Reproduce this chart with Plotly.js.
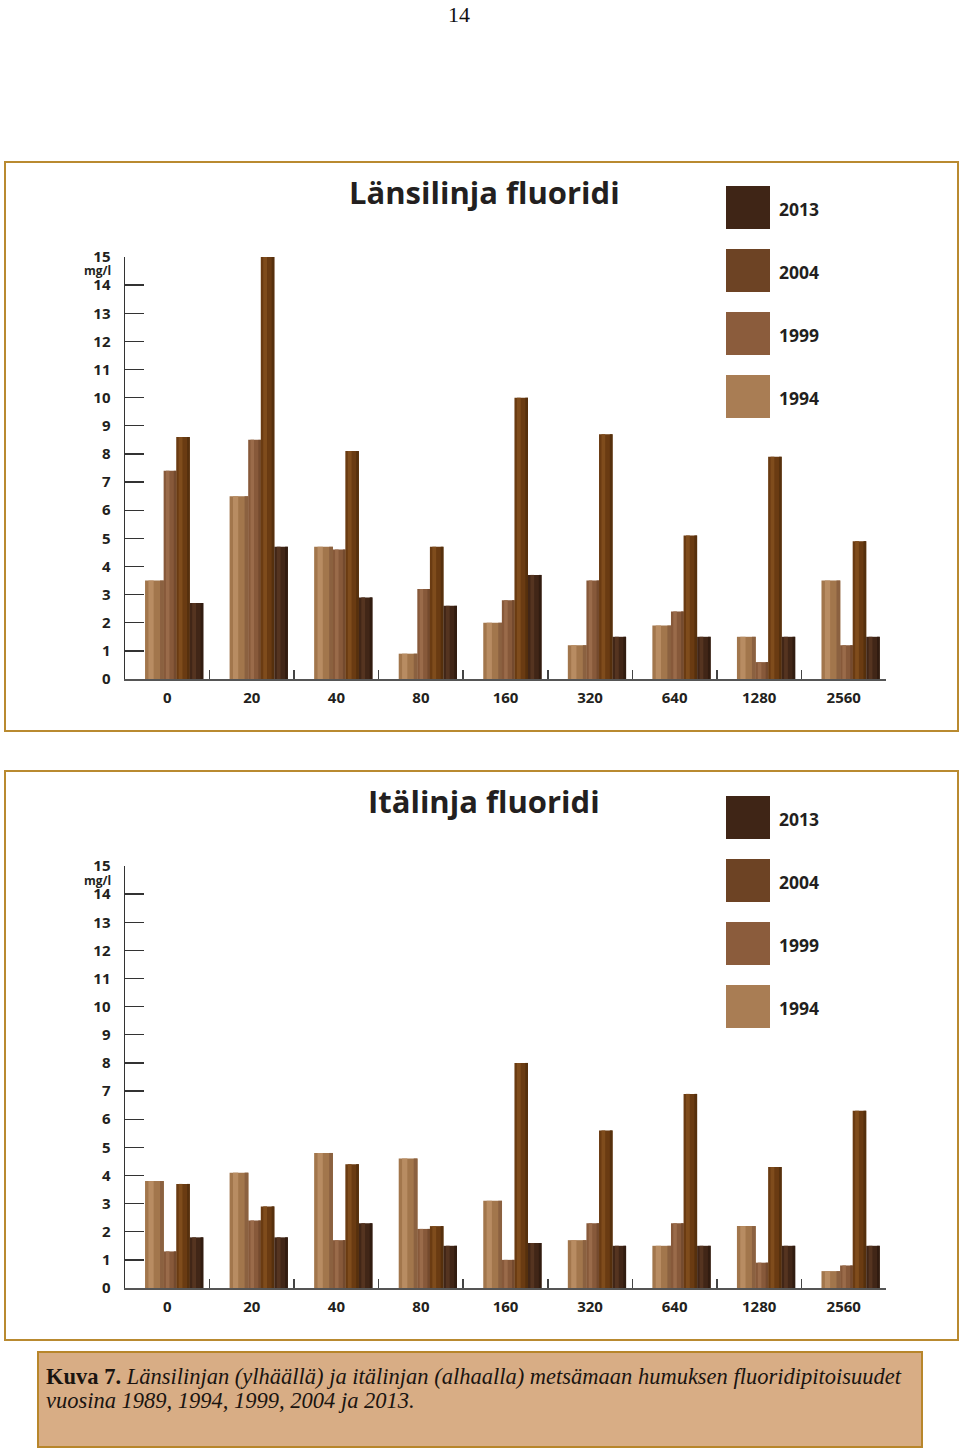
<!DOCTYPE html>
<html>
<head>
<meta charset="utf-8">
<script src="https://cdn.plot.ly/plotly-3.0.1.min.js"></script>
<style>
  html, body { margin: 0; padding: 0; background: #ffffff; }
  #chart { width: 960px; height: 1451px; }
</style>
</head>
<body>
<div id="chart"></div>
<script>
// ---- Data ----
const categories = ['0', '20', '40', '80', '160', '320', '640', '1280', '2560'];
const years = ['1994', '1999', '2004', '2013'];
const yTickValues = [0, 1, 2, 3, 4, 5, 6, 7, 8, 9, 10, 11, 12, 13, 14, 15];

// Länsilinja (top chart), mg/l
const west1994 = [3.5, 6.5, 4.7, 0.9, 2.0, 1.2, 1.9, 1.5, 3.5];
const west1999 = [7.4, 8.5, 4.6, 3.2, 2.8, 3.5, 2.4, 0.6, 1.2];
const west2004 = [8.6, 15.0, 8.1, 4.7, 10.0, 8.7, 5.1, 7.9, 4.9];
const west2013 = [2.7, 4.7, 2.9, 2.6, 3.7, 1.5, 1.5, 1.5, 1.5];

// Itälinja (bottom chart), mg/l
const east1994 = [3.8, 4.1, 4.8, 4.6, 3.1, 1.7, 1.5, 2.2, 0.6];
const east1999 = [1.3, 2.4, 1.7, 2.1, 1.0, 2.3, 2.3, 0.9, 0.8];
const east2004 = [3.7, 2.9, 4.4, 2.2, 8.0, 5.6, 6.9, 4.3, 6.3];
const east2013 = [1.8, 1.8, 2.3, 1.5, 1.6, 1.5, 1.5, 1.5, 1.5];

const titleWest = 'Länsilinja fluoridi';
const titleEast = 'Itälinja fluoridi';
const unitLabel = 'mg/l';
const pageNumber = '14';
const captionBold = 'Kuva 7.';
const captionLine1 = ' Länsilinjan (ylhäällä) ja itälinjan (alhaalla) metsämaan humuksen fluoridipitoisuudet';
const captionLine2 = 'vuosina 1989, 1994, 1999, 2004 ja 2013.';

// ---- Styles (not data) ----
const W = 960, H = 1451;
const px = x => x / W;
const py = y => 1 - y / H;

const style = {
  '1994': { base: '#a2764c', hi: '#b88c62', sh: '#8b6140', legend: '#a97d54', offset: -0.263, width: 0.222 },
  '1999': { base: '#87593a', hi: '#9a6b4a', sh: '#744a2e', legend: '#8b5c3c', offset: -0.043, width: 0.150 },
  '2004': { base: '#6a3b12', hi: '#7f4c1c', sh: '#56300d', legend: '#6d4324', offset: 0.106, width: 0.160 },
  '2013': { base: '#412617', hi: '#553420', sh: '#311c10', legend: '#3f2516', offset: 0.266, width: 0.160 }
};

const westData = { '1994': west1994, '1999': west1999, '2004': west2004, '2013': west2013 };
const eastData = { '1994': east1994, '1999': east1999, '2004': east2004, '2013': east2013 };

function barsFor(dataMap, xa, ya) {
  const out = [];
  years.forEach(yr => {
    const s = style[yr];
    const vals = dataMap[yr];
    const common = { type: 'bar', x: categories, y: vals, xaxis: xa, yaxis: ya,
                     showlegend: false, hoverinfo: 'skip' };
    out.push(Object.assign({}, common, { name: yr, offset: s.offset, width: s.width,
      marker: { color: s.base, line: { width: 0 } } }));
    // cylinder highlight stripe
    out.push(Object.assign({}, common, { name: yr + ' hi', offset: s.offset + s.width * 0.18, width: s.width * 0.28,
      marker: { color: s.hi, line: { width: 0 } } }));
    // cylinder shadow stripe
    out.push(Object.assign({}, common, { name: yr + ' sh', offset: s.offset + s.width * 0.80, width: s.width * 0.20,
      marker: { color: s.sh, line: { width: 0 } } }));
  });
  return out;
}

const traces = [].concat(barsFor(westData, 'x', 'y'), barsFor(eastData, 'x2', 'y2'));

const chartFont = { family: 'Open Sans, Noto Sans, sans-serif', color: '#231f20', weight: 700 };
const serifFont = { family: 'Liberation Serif, serif', size: 22.5, color: '#1a1410', weight: 400 };

function xAxisDef() {
  return {
    domain: [px(125), px(886)],
    type: 'category',
    range: [-0.5, 8.5],
    showline: true, linecolor: '#555555', linewidth: 2,
    ticks: 'inside', tickson: 'boundaries', ticklen: 9, tickwidth: 1.5, tickcolor: '#444444',
    showgrid: false, zeroline: false,
    tickfont: Object.assign({}, chartFont, { size: 15 }),
    ticklabelstandoff: 4,
    fixedrange: true
  };
}
function yAxisDef(y0, y15) {
  return {
    domain: [py(y0), py(y15)],
    range: [0, 15],
    tickmode: 'array', tickvals: yTickValues, ticktext: yTickValues.map(String),
    showline: true, linecolor: '#333333', linewidth: 1.5,
    ticks: 'inside', ticklen: 19, tickwidth: 1.3, tickcolor: '#333333',
    showgrid: false, zeroline: false,
    tickfont: Object.assign({}, chartFont, { size: 15 }),
    ticklabelstandoff: 10,
    fixedrange: true
  };
}

const boxColor = '#b98a30';
const shapes = [
  { type: 'rect', xref: 'paper', yref: 'paper', x0: px(5), x1: px(958), y0: py(731), y1: py(162),
    line: { color: boxColor, width: 2 }, fillcolor: 'rgba(0,0,0,0)', layer: 'below' },
  { type: 'rect', xref: 'paper', yref: 'paper', x0: px(5), x1: px(958), y0: py(1340), y1: py(771),
    line: { color: boxColor, width: 2 }, fillcolor: 'rgba(0,0,0,0)', layer: 'below' },
  { type: 'rect', xref: 'paper', yref: 'paper', x0: px(38), x1: px(922), y0: py(1447), y1: py(1352),
    line: { color: '#b8862b', width: 2 }, fillcolor: '#d8ad85', layer: 'below' }
];

const annotations = [];
function legendBlock(topY) {
  years.slice().reverse().forEach((yr, i) => {
    const y0 = topY + i * 63;
    shapes.push({ type: 'rect', xref: 'paper', yref: 'paper', x0: px(726), x1: px(770),
      y0: py(y0 + 43), y1: py(y0), line: { width: 0 }, fillcolor: style[yr].legend });
    annotations.push({ xref: 'paper', yref: 'paper', x: px(777), y: py(y0 + 23), text: yr,
      showarrow: false, xanchor: 'left', yanchor: 'middle',
      font: Object.assign({}, chartFont, { size: 17.5 }) });
  });
}
legendBlock(186);
legendBlock(796);

annotations.push(
  { xref: 'paper', yref: 'paper', x: px(484), y: py(192), text: titleWest, showarrow: false,
    xanchor: 'center', yanchor: 'middle', font: Object.assign({}, chartFont, { size: 31 }) },
  { xref: 'paper', yref: 'paper', x: px(484), y: py(801), text: titleEast, showarrow: false,
    xanchor: 'center', yanchor: 'middle', font: Object.assign({}, chartFont, { size: 31 }) },
  { xref: 'paper', yref: 'paper', x: px(113), y: py(271), text: unitLabel, showarrow: false,
    xanchor: 'right', yanchor: 'middle', font: Object.assign({}, chartFont, { size: 12 }) },
  { xref: 'paper', yref: 'paper', x: px(113), y: py(880), text: unitLabel, showarrow: false,
    xanchor: 'right', yanchor: 'middle', font: Object.assign({}, chartFont, { size: 12 }) },
  { xref: 'paper', yref: 'paper', x: px(459), y: py(14), text: pageNumber, showarrow: false,
    xanchor: 'center', yanchor: 'middle',
    font: { family: 'Liberation Serif, serif', size: 22, color: '#111111', weight: 400 } },
  { xref: 'paper', yref: 'paper', x: px(44), y: py(1376), showarrow: false,
    xanchor: 'left', yanchor: 'middle',
    text: '<b>' + captionBold + '</b><i>' + captionLine1 + '</i>',
    font: serifFont },
  { xref: 'paper', yref: 'paper', x: px(44), y: py(1400), showarrow: false,
    xanchor: 'left', yanchor: 'middle',
    text: '<i>' + captionLine2 + '</i>',
    font: serifFont }
);

const layout = {
  width: W, height: H,
  margin: { l: 0, r: 0, t: 0, b: 0, pad: 0 },
  paper_bgcolor: '#ffffff', plot_bgcolor: 'rgba(0,0,0,0)',
  barmode: 'overlay',
  showlegend: false,
  xaxis: Object.assign(xAxisDef(), { anchor: 'y' }),
  yaxis: Object.assign(yAxisDef(679, 257), { anchor: 'x' }),
  xaxis2: Object.assign(xAxisDef(), { anchor: 'y2' }),
  yaxis2: Object.assign(yAxisDef(1288, 866), { anchor: 'x2' }),
  shapes: shapes,
  annotations: annotations,
  font: { family: 'Open Sans, Noto Sans, sans-serif', color: '#231f20' }
};

Plotly.newPlot('chart', traces, layout, { staticPlot: true, displayModeBar: false });
</script>
</body>
</html>
